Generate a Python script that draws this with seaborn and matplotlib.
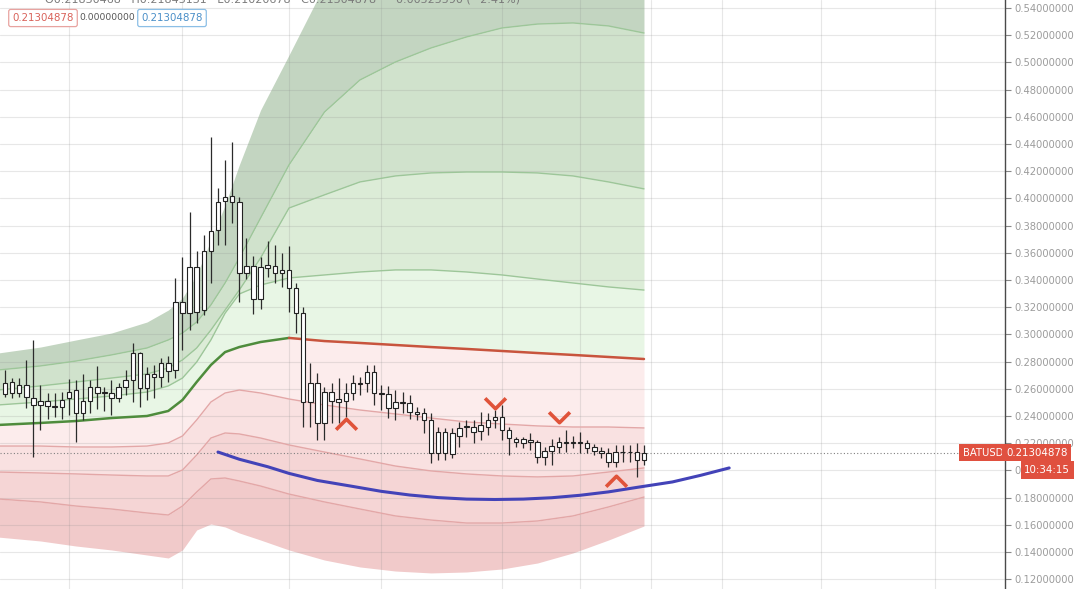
import numpy as np
import matplotlib
matplotlib.use("Agg")
import matplotlib.pyplot as plt
import matplotlib.transforms as mtransforms
from matplotlib.path import Path
import seaborn as sns

# candles (BATUSD)
highs = [0.274, 0.268, 0.268, 0.281, 0.296, 0.263, 0.257, 0.257, 0.258, 0.267,
         0.2665, 0.271, 0.2665, 0.277, 0.261, 0.2665, 0.264, 0.274, 0.2935, 0.287,
         0.276, 0.2775, 0.2825, 0.284, 0.3415, 0.357, 0.390, 0.361, 0.373, 0.445,
         0.408, 0.428, 0.4415, 0.401, 0.371, 0.358, 0.357, 0.369, 0.366, 0.360,
         0.365, 0.338, 0.320, 0.279, 0.2715, 0.261, 0.264, 0.268, 0.264, 0.270,
         0.2687, 0.2775, 0.2775, 0.2628, 0.262, 0.259, 0.2577, 0.2555, 0.2466, 0.246,
         0.2422, 0.232, 0.2312, 0.2312, 0.2356, 0.237, 0.237, 0.243, 0.2422, 0.2444,
         0.248, 0.232, 0.2246, 0.2246, 0.2275, 0.2224, 0.2172, 0.223, 0.2246, 0.2297,
         0.2253, 0.2283, 0.2224, 0.2194, 0.2172, 0.2164, 0.2187, 0.2187, 0.2187, 0.220,
         0.2187]
body_hi = [0.264, 0.265, 0.263, 0.263, 0.253, 0.251, 0.251, 0.2472, 0.252, 0.258,
           0.259, 0.251, 0.261, 0.261, 0.258, 0.257, 0.261, 0.2665, 0.2865, 0.2865,
           0.271, 0.271, 0.279, 0.279, 0.324, 0.324, 0.3495, 0.3495, 0.361, 0.376,
           0.397, 0.401, 0.402, 0.397, 0.350, 0.350, 0.3495, 0.351, 0.350, 0.3475,
           0.3475, 0.334, 0.316, 0.264, 0.264, 0.2575, 0.2575, 0.2525, 0.257, 0.264,
           0.264, 0.2724, 0.2724, 0.257, 0.256, 0.2503, 0.2503, 0.2496, 0.243, 0.2422,
           0.237, 0.2283, 0.2283, 0.2275, 0.2312, 0.2327, 0.232, 0.2334, 0.237, 0.2393,
           0.2393, 0.2297, 0.2231, 0.2231, 0.2224, 0.221, 0.2143, 0.2179, 0.221, 0.221,
           0.221, 0.221, 0.2202, 0.2172, 0.2143, 0.2128, 0.2135, 0.2138, 0.2138, 0.2135,
           0.21305]
body_lo = [0.256, 0.257, 0.257, 0.254, 0.248, 0.248, 0.247, 0.2465, 0.2465, 0.253,
           0.242, 0.242, 0.251, 0.257, 0.257, 0.253, 0.2535, 0.261, 0.2665, 0.2605,
           0.2605, 0.269, 0.269, 0.273, 0.274, 0.316, 0.316, 0.3165, 0.318, 0.361,
           0.377, 0.398, 0.397, 0.345, 0.345, 0.326, 0.326, 0.349, 0.345, 0.345,
           0.334, 0.3158, 0.2503, 0.250, 0.2345, 0.2345, 0.251, 0.250, 0.251, 0.257,
           0.2635, 0.2643, 0.2569, 0.256, 0.246, 0.246, 0.2496, 0.243, 0.2415, 0.237,
           0.2128, 0.2128, 0.2128, 0.2121, 0.2253, 0.232, 0.2283, 0.229, 0.232, 0.237,
           0.2297, 0.2238, 0.221, 0.2202, 0.221, 0.2099, 0.2099, 0.2143, 0.2172, 0.2202,
           0.2202, 0.2202, 0.2165, 0.2143, 0.2128, 0.2062, 0.2062, 0.2132, 0.2132, 0.2076,
           0.2076]
lows = [0.254, 0.253, 0.254, 0.246, 0.210, 0.230, 0.238, 0.239, 0.238, 0.241,
        0.221, 0.237, 0.242, 0.245, 0.244, 0.241, 0.250, 0.2555, 0.250, 0.2465,
        0.252, 0.2535, 0.2615, 0.265, 0.268, 0.2885, 0.303, 0.3085, 0.314, 0.338,
        0.366, 0.366, 0.382, 0.324, 0.341, 0.315, 0.319, 0.342, 0.338, 0.335,
        0.3165, 0.301, 0.232, 0.232, 0.2225, 0.2225, 0.2345, 0.2345, 0.2395, 0.2518,
        0.2555, 0.2577, 0.2481, 0.2444, 0.2386, 0.237, 0.2422, 0.238, 0.237, 0.2275,
        0.2055, 0.2076, 0.2076, 0.2090, 0.2172, 0.2246, 0.2202, 0.2224, 0.2261, 0.231,
        0.2224, 0.2113, 0.2172, 0.2165, 0.215, 0.2055, 0.204, 0.204, 0.2128, 0.2135,
        0.2165, 0.2128, 0.2128, 0.2113, 0.2091, 0.2025, 0.2025, 0.2062, 0.2062, 0.1951,
        0.2040]
last_price = 0.21304878

# band curves, sampled at these bar numbers
band_idx = [-1, 5, 10, 15, 20, 23, 25, 27, 29, 31, 33, 36, 40, 45, 50, 55, 60, 65, 70, 75, 80, 85, 90]
band_d = [0.2863, 0.2907, 0.2959, 0.3010, 0.3091, 0.3179, 0.3268, 0.3437, 0.3694, 0.3951, 0.4246, 0.4650,
          0.5054, 0.5569, 0.5753, 0.5900, 0.6047, 0.6121, 0.6194, 0.6231, 0.6268, 0.6268, 0.6231]
band_a = [0.2738, 0.2768, 0.2804, 0.2849, 0.2900, 0.2959, 0.3010, 0.3091, 0.3216, 0.3378, 0.3562, 0.3856,
          0.4246, 0.4635, 0.4871, 0.5003, 0.5106, 0.5187, 0.5253, 0.5282, 0.5290, 0.5268, 0.5216]
band_b = [0.2591, 0.2621, 0.2650, 0.2679, 0.2709, 0.2753, 0.2812, 0.2900, 0.3032, 0.3179, 0.3326, 0.3562,
          0.3929, 0.4026, 0.4121, 0.4165, 0.4187, 0.4194, 0.4194, 0.4187, 0.4165, 0.4121, 0.4070]
band_c = [0.2481, 0.2503, 0.2525, 0.2547, 0.2576, 0.2621, 0.2679, 0.2797, 0.2959, 0.3156, 0.3297, 0.3363,
          0.3415, 0.3437, 0.3459, 0.3474, 0.3474, 0.3459, 0.3437, 0.3407, 0.3378, 0.3349, 0.3326]
mid = [0.2334, 0.2349, 0.2363, 0.2385, 0.2400, 0.2437, 0.2518, 0.2650, 0.2775, 0.2870, 0.2907, 0.2944,
       0.2974, 0.2951, 0.2937, 0.2922, 0.2907, 0.2893, 0.2878, 0.2863, 0.2849, 0.2834, 0.2819]
low1 = [0.2179, 0.2179, 0.2172, 0.2172, 0.2179, 0.2202, 0.2253, 0.2371, 0.2503, 0.2569, 0.2591, 0.2569,
        0.2525, 0.2481, 0.2444, 0.2415, 0.2385, 0.2356, 0.2341, 0.2327, 0.2319, 0.2319, 0.2312]
low2 = [0.1988, 0.1981, 0.1974, 0.1966, 0.1959, 0.1959, 0.2003, 0.2113, 0.2238, 0.2275, 0.2268, 0.2238,
        0.2187, 0.2135, 0.2084, 0.2032, 0.1996, 0.1974, 0.1959, 0.1952, 0.1959, 0.1988, 0.2018]
low3 = [0.1790, 0.1768, 0.1738, 0.1716, 0.1687, 0.1672, 0.1738, 0.1841, 0.1937, 0.1944, 0.1922, 0.1885,
        0.1826, 0.1768, 0.1716, 0.1665, 0.1635, 0.1613, 0.1613, 0.1628, 0.1665, 0.1731, 0.1804]
low4 = [0.1510, 0.1481, 0.1444, 0.1415, 0.1378, 0.1356, 0.1415, 0.1562, 0.1606, 0.1584, 0.1540, 0.1488,
        0.1415, 0.1341, 0.1290, 0.1260, 0.1246, 0.1253, 0.1275, 0.1319, 0.1393, 0.1488, 0.1591]

# hand drawn arc
arc_idx = [30, 33, 37, 40, 44, 49, 53, 57, 61, 65, 69, 73, 77, 81, 85, 89, 94, 98, 102]
arc_vals = [0.2135, 0.2082, 0.2027, 0.1978, 0.1926, 0.1882, 0.1846, 0.1819, 0.1800, 0.1789,
            0.1786, 0.1789, 0.1799, 0.1817, 0.1842, 0.1875, 0.1915, 0.1964, 0.2018]

# chevron marks
up_marks_idx = [48, 86]
up_marks_val = [0.2341, 0.1922]
down_marks_idx = [69, 78]
down_marks_val = [0.2496, 0.2393]

date_lines = [9, 25, 40, 53, 70, 81, 91, 101, 115, 131]
price_ticks = np.round(np.arange(0.12, 0.5401, 0.02), 2)

sns.set_style("white")
plt.rcParams["font.family"] = ["DejaVu Sans"]

fig = plt.figure(figsize=(10.8, 5.89), dpi=100)
ax = fig.add_axes([0, 0, 1005 / 1080, 1])

RED = "#e0503f"

layers = [(band_a, band_d, "#c3d5c1"), (band_b, band_a, "#d0e2cc"),
          (band_c, band_b, "#dcecd7"), (mid, band_c, "#e8f6e5"),
          (low1, mid, "#fcecec"), (low2, low1, "#f9e1e1"),
          (low3, low2, "#f5d5d5"), (low4, low3, "#f1caca")]
for lo, hi, col in layers:
    ax.fill_between(band_idx, lo, hi, color=col, lw=0, zorder=1)

for band in [band_a, band_b, band_c]:
    sns.lineplot(x=band_idx, y=band, ax=ax, color="#9dc699", lw=1, zorder=2)
for band in [low1, low2, low3]:
    sns.lineplot(x=band_idx, y=band, ax=ax, color="#e3a7a7", lw=1, zorder=2)

sns.lineplot(x=band_idx[:13], y=mid[:13], ax=ax, color="#4e8c3c", lw=1.8, zorder=3)
sns.lineplot(x=band_idx[12:], y=mid[12:], ax=ax, color="#c8543d", lw=1.8, zorder=3)
sns.lineplot(x=arc_idx, y=arc_vals, ax=ax, color="#4343b8", lw=2.2, zorder=3)

ax.axhline(last_price, color="#808080", lw=0.8, ls=(0, (1, 2)), zorder=2.5)

# candles
bars = np.arange(len(highs))
hi = np.array(body_hi)
lo = np.array(body_lo)
ax.vlines(bars, lows, highs, color="#2b2b2b", lw=0.9, zorder=4)
ax.bar(bars, np.maximum(hi - lo, 0.0004), bottom=lo, width=0.64, color="white",
       edgecolor="#222222", linewidth=0.8, zorder=5)

up_chev = Path([(-1, -0.5), (0, 0.5), (1, -0.5)], [Path.MOVETO, Path.LINETO, Path.LINETO])
down_chev = Path([(-1, 0.5), (0, -0.5), (1, 0.5)], [Path.MOVETO, Path.LINETO, Path.LINETO])
ax.plot(up_marks_idx, up_marks_val, ls="none", marker=up_chev, ms=15, mew=2.6,
        mec="#e0533a", mfc="none", zorder=6)
ax.plot(down_marks_idx, down_marks_val, ls="none", marker=down_chev, ms=15, mew=2.6,
        mec="#e0533a", mfc="none", zorder=6)

ax.set_xlim(-0.704, 140.85)
ax.set_ylim(0.11279, 0.54588)
ax.set_xticks(date_lines)
ax.set_yticks(price_ticks)
ax.set_yticklabels([f"{v:.8f}" for v in price_ticks])
ax.yaxis.tick_right()
ax.tick_params(axis="x", length=0, labelbottom=False)
ax.tick_params(axis="y", length=4, width=0.8, color="#888888", labelcolor="#9c9c9c",
               labelsize=7.2, pad=3)
ax.set_axisbelow("line")
ax.grid(True, color="#8a8a8a", alpha=0.2, lw=0.8)
for side in ["left", "top", "bottom"]:
    ax.spines[side].set_visible(False)
ax.spines["right"].set_color("#4a4a4a")
ax.spines["right"].set_linewidth(1)
ax.set_xlabel("")
ax.set_ylabel("")

# price / symbol tags
blend = mtransforms.blended_transform_factory(ax.transAxes, ax.transData)
ax.text(0.998, last_price, "BATUSD", transform=blend, ha="right", va="center",
        fontsize=7.2, color="white", zorder=10, clip_on=False,
        bbox=dict(boxstyle="square,pad=0.35", fc=RED, ec="none"))
ax.text(1.001, last_price, "0.21304878", transform=blend, ha="left", va="center",
        fontsize=7.4, color="white", zorder=10, clip_on=False,
        bbox=dict(boxstyle="square,pad=0.35", fc=RED, ec="none"))
ax.text(1070 / 1005, 0.2003, "10:34:15", transform=blend, ha="right", va="center",
        fontsize=7.4, color="white", zorder=10, clip_on=False,
        bbox=dict(boxstyle="square,pad=0.35", fc=RED, ec="none"))

# legend row at the top left
fig.text(45 / 1080, 1 + 1 / 589, "O0.21830468   H0.21843131   L0.21020678   C0.21304878   \u22120.00525590 (\u22122.41%)",
         ha="left", va="center", fontsize=8, color="#7a7a7a")
fig.text(43 / 1080, 1 - 18 / 589, "0.21304878", ha="center", va="center", fontsize=7.4,
         color="#d9625a", bbox=dict(boxstyle="round,pad=0.35,rounding_size=0.2", fc="white", ec="#e8a3a0", lw=0.9))
fig.text(107 / 1080, 1 - 18 / 589, "0.00000000", ha="center", va="center", fontsize=6.6, color="#555555")
fig.text(172 / 1080, 1 - 18 / 589, "0.21304878", ha="center", va="center", fontsize=7.4,
         color="#4a8fc8", bbox=dict(boxstyle="round,pad=0.35,rounding_size=0.2", fc="white", ec="#8cbfe6", lw=0.9))

fig.savefig("out.png", dpi=100)
